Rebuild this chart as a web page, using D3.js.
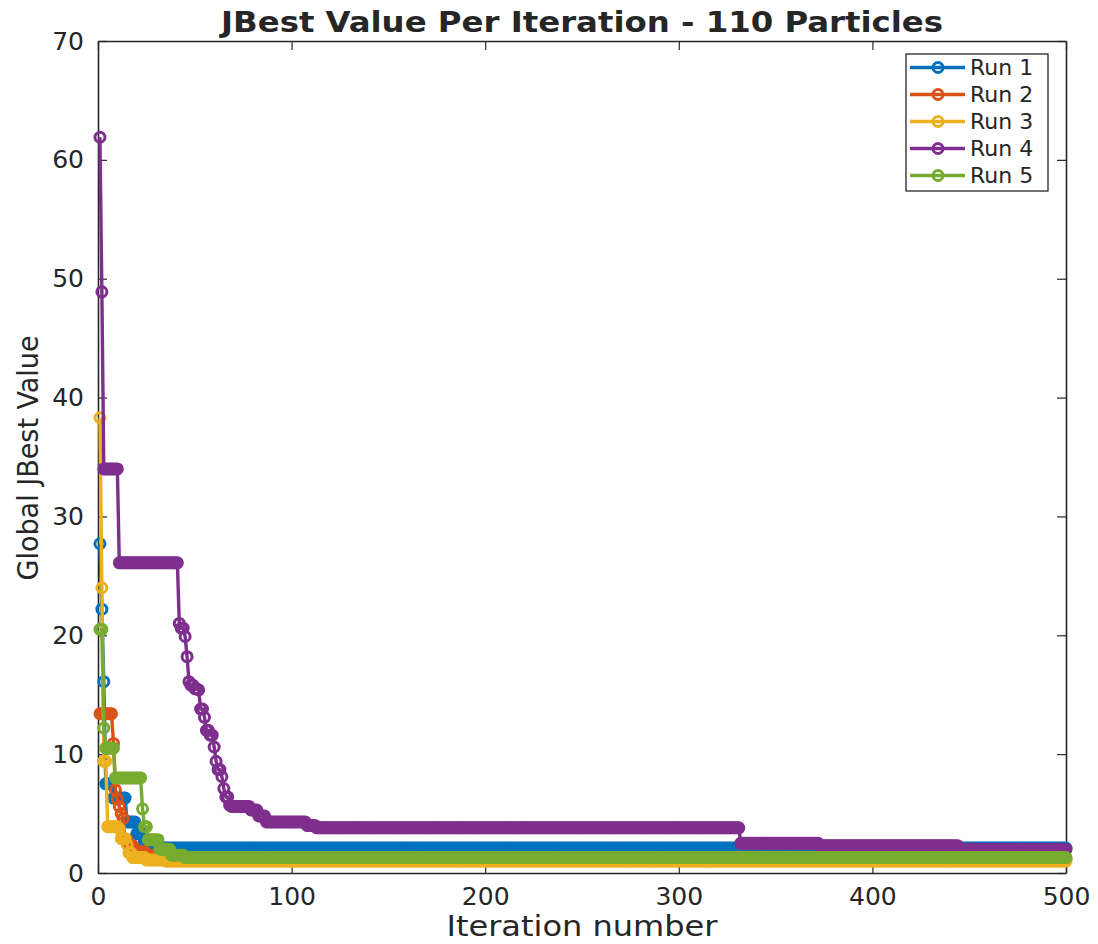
<!DOCTYPE html>
<html>
<head>
<meta charset="utf-8">
<script src="https://cdn.jsdelivr.net/npm/d3@7"></script>
<style>
  html, body { margin: 0; padding: 0; background: #fff; }
  svg { display: block; }
  text { font-family: "DejaVu Sans Condensed", "DejaVu Sans", sans-serif; font-stretch: condensed; fill: #262626; }
</style>
</head>
<body>
<svg id="chart" width="1098" height="944"></svg>
<script>
// ---- Data ----
// Each run is the global-best value per iteration, stored as change points:
// [first iteration at which the value holds, value]. The value stays until the next change point.
const runNames = ["Run 1", "Run 2", "Run 3", "Run 4", "Run 5"];
const runColors = ["#0072BD", "#D95319", "#EDB120", "#7E2F8E", "#77AC30"];
const nIterations = 500;

const run1 = [[1, 27.7], [2, 22.2], [3, 16.1], [4, 7.5], [8, 6.3], [15, 4.3], [20, 3.3], [24, 2.6], [28, 2.1]];
const run2 = [[1, 13.4], [8, 10.9], [9, 7.0], [10, 6.2], [11, 5.6], [12, 5.0], [13, 4.6], [14, 2.8], [16, 2.3], [19, 1.8], [25, 1.5], [35, 1.2]];
const run3 = [[1, 38.3], [2, 24.0], [3, 9.4], [5, 3.9], [11, 3.7], [12, 2.9], [15, 2.4], [16, 1.7], [18, 1.3], [25, 1.1], [35, 1.0]];
const run4 = [[1, 61.9], [2, 48.9], [3, 34.0], [11, 26.1], [42, 21.0], [43, 20.6], [45, 19.9], [46, 18.2], [47, 16.1],
              [48, 15.8], [50, 15.5], [52, 15.4], [53, 13.8], [55, 13.1], [56, 12.0], [58, 11.6], [60, 10.6], [61, 9.4],
              [62, 8.7], [64, 8.1], [65, 7.1], [66, 6.4], [68, 5.7], [69, 5.6], [79, 5.3], [83, 4.8], [87, 4.3],
              [108, 4.0], [113, 3.8], [332, 2.5], [373, 2.3], [445, 2.0]];
const run5 = [[1, 20.5], [3, 12.2], [4, 10.5], [9, 8.0], [23, 5.4], [24, 3.9], [26, 2.8], [32, 2.0], [38, 1.5], [45, 1.3]];

const xTicks = [0, 100, 200, 300, 400, 500];
const yTicks = [0, 10, 20, 30, 40, 50, 60, 70];

const titleText = "JBest Value Per Iteration - 110 Particles";
const xLabelText = "Iteration number";
const yLabelText = "Global JBest Value";

// ---- Expand change points to a value for every iteration ----
function expand(changes) {
  const out = [];
  let k = 0;
  for (let i = 1; i <= nIterations; i++) {
    while (k + 1 < changes.length && changes[k + 1][0] <= i) k++;
    out.push({ iter: i, value: changes[k][1] });
  }
  return out;
}
const series = [run1, run2, run3, run4, run5].map((r, idx) => ({ name: runNames[idx], color: runColors[idx], data: expand(r) }));

// ---- Layout ----
const svg = d3.select("#chart");
const plot = { left: 98, right: 1066, top: 41, bottom: 873 };

const x = d3.scaleLinear().domain([0, 500]).range([plot.left, plot.right]);
const y = d3.scaleLinear().domain([0, 70]).range([plot.bottom, plot.top]);

const axisColor = "#262626";
const tickLen = 9;
const markerR = 5;
const markerW = 3;
const lineW = 3.4;

// Axes box + ticks (inward, all four sides)
const axesG = svg.append("g");
const xAxisB = d3.axisBottom(x).tickValues(xTicks).tickSizeInner(-tickLen).tickSizeOuter(0).tickPadding(14);
const xAxisT = d3.axisTop(x).tickValues(xTicks).tickSizeInner(-tickLen).tickSizeOuter(0).tickFormat("");
const yAxisL = d3.axisLeft(y).tickValues(yTicks).tickSizeInner(-tickLen).tickSizeOuter(0).tickPadding(14);
const yAxisR = d3.axisRight(y).tickValues(yTicks).tickSizeInner(-tickLen).tickSizeOuter(0).tickFormat("");

function styleAxis(g) {
  g.select(".domain").attr("stroke", axisColor).attr("stroke-width", 1.6);
  g.selectAll(".tick line").attr("stroke", axisColor).attr("stroke-width", 1.2);
  g.selectAll(".tick text").attr("fill", axisColor).style("font-size", "25px")
    .style("font-family", "'DejaVu Sans', sans-serif").style("font-stretch", "normal");
}
axesG.append("g").attr("transform", `translate(0,${plot.bottom})`).call(xAxisB).call(styleAxis);
axesG.append("g").attr("transform", `translate(0,${plot.top})`).call(xAxisT).call(styleAxis);
axesG.append("g").attr("transform", `translate(${plot.left},0)`).call(yAxisL).call(styleAxis);
axesG.append("g").attr("transform", `translate(${plot.right},0)`).call(yAxisR).call(styleAxis);

// Lines and markers
const line = d3.line().x(d => x(d.iter)).y(d => y(d.value));
const dataG = svg.append("g");
series.forEach(s => {
  const g = dataG.append("g");
  g.append("path").datum(s.data).attr("d", line)
    .attr("fill", "none").attr("stroke", s.color).attr("stroke-width", lineW).attr("stroke-linejoin", "round");
  g.selectAll("circle").data(s.data).join("circle")
    .attr("cx", d => x(d.iter)).attr("cy", d => y(d.value)).attr("r", markerR)
    .attr("fill", "none").attr("stroke", s.color).attr("stroke-width", markerW);
});

// Title & labels
svg.append("text").attr("x", (plot.left + plot.right) / 2).attr("y", 32)
  .attr("text-anchor", "middle").style("font-size", "28px").style("font-weight", "bold")
  .attr("textLength", 722).attr("lengthAdjust", "spacingAndGlyphs").text(titleText);

svg.append("text").attr("x", (plot.left + plot.right) / 2).attr("y", 936)
  .attr("text-anchor", "middle").style("font-size", "29px")
  .attr("textLength", 271).attr("lengthAdjust", "spacingAndGlyphs").text(xLabelText);

svg.append("text").attr("transform", `translate(38,458) rotate(-90)`)
  .attr("text-anchor", "middle").style("font-size", "29px")
  .attr("textLength", 245).attr("lengthAdjust", "spacingAndGlyphs").text(yLabelText);

// Legend
const legend = { x: 906, y: 54, w: 142, h: 137, rowH: 27, firstRow: 67.5 };
const legG = svg.append("g");
legG.append("rect").attr("x", legend.x).attr("y", legend.y).attr("width", legend.w).attr("height", legend.h)
  .attr("fill", "#fff").attr("stroke", axisColor).attr("stroke-width", 1.3);
series.forEach((s, i) => {
  const cy = legend.firstRow + i * legend.rowH;
  legG.append("line").attr("x1", 910).attr("x2", 965).attr("y1", cy).attr("y2", cy)
    .attr("stroke", s.color).attr("stroke-width", lineW);
  legG.append("circle").attr("cx", 938).attr("cy", cy).attr("r", markerR)
    .attr("fill", "none").attr("stroke", s.color).attr("stroke-width", markerW);
  legG.append("text").attr("x", 970).attr("y", cy).attr("dy", "0.35em")
    .style("font-size", "22px").style("font-family", "'DejaVu Sans', sans-serif").style("font-stretch", "normal")
    .text(s.name);
});
</script>
</body>
</html>
